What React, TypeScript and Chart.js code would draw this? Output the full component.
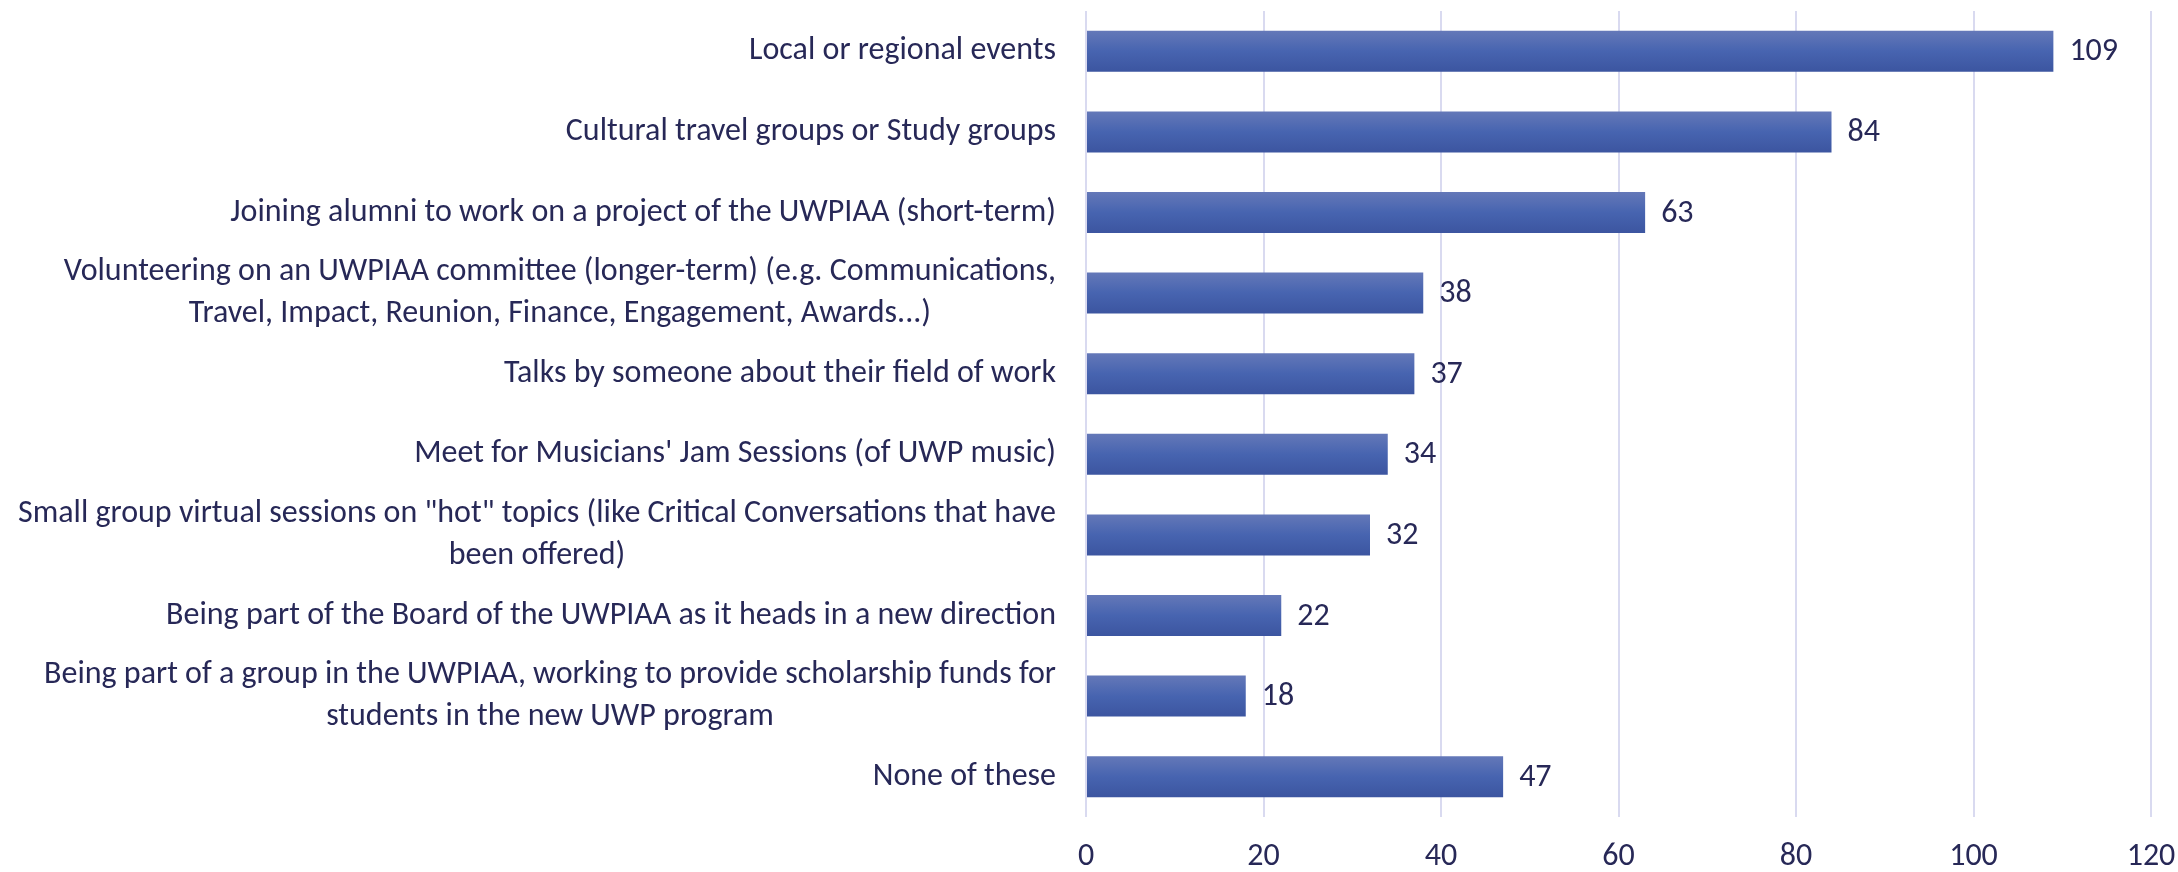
import React, { useEffect, useRef } from "react";
import { Chart, registerables } from "chart.js";

Chart.register(...registerables);

const categories: string[][] = [
  ["Local or regional events"],
  ["Cultural travel groups or Study groups"],
  ["Joining alumni to work on a project of the UWPIAA (short-term)"],
  [
    "Volunteering on an UWPIAA committee (longer-term) (e.g. Communications,",
    "Travel, Impact, Reunion, Finance, Engagement, Awards...)",
  ],
  ["Talks by someone about their field of work"],
  ["Meet for Musicians' Jam Sessions (of UWP music)"],
  [
    'Small group virtual sessions on "hot" topics (like Critical Conversations that have',
    "been offered)",
  ],
  ["Being part of the Board of the UWPIAA as it heads in a new direction"],
  [
    "Being part of a group in the UWPIAA, working to provide scholarship funds for",
    "students in the new UWP program",
  ],
  ["None of these"],
];

const responses: number[] = [109, 84, 63, 38, 37, 34, 32, 22, 18, 47];

const xTicks: number[] = [0, 20, 40, 60, 80, 100, 120];

const TEXT = "#272857";
const GRID = "#D9DAF0";

function hasFont(name: string): boolean {
  const c = document.createElement("canvas").getContext("2d")!;
  const s = "abcdefghijklmnopqrstuvwxyz ABCDEFGHIJ 0123456789";
  c.font = "40px monospace";
  const a = c.measureText(s).width;
  c.font = `40px "${name}", monospace`;
  const b = c.measureText(s).width;
  c.font = "40px serif";
  const a2 = c.measureText(s).width;
  c.font = `40px "${name}", serif`;
  const b2 = c.measureText(s).width;
  return a !== b || a2 !== b2;
}

export default function App() {
  const ref = useRef<HTMLCanvasElement>(null);

  useEffect(() => {
    const canvas = ref.current!;
    const cands = ["Carlito", "Lato", "Open Sans", "Noto Sans", "DejaVu Sans"];
    let family = "sans-serif";
    for (const f of cands) {
      if (hasFont(f)) {
        family = `"${f}", sans-serif`;
        break;
      }
    }
    // fit the font size so the widest label spans like the reference
    const mctx = document.createElement("canvas").getContext("2d")!;
    mctx.font = `31px ${family}`;
    const w = mctx.measureText(categories[6][0]).width;
    let fontSize = Math.min(32, (31 * 1042) / w);
    fontSize = Math.max(24, fontSize);
    const font = { family, size: fontSize };
    const lineH = 42;
    const BAR_H = 41;

    const labelPlugin = {
      id: "labels",
      afterDatasetsDraw(chart: any) {
        const { ctx, scales, chartArea } = chart;
        const y = scales.y;
        const x = scales.x;
        ctx.save();
        ctx.fillStyle = TEXT;
        ctx.font = `${fontSize}px ${family}`;
        ctx.textBaseline = "middle";
        const right = chartArea.left - 30;
        categories.forEach((lines, i) => {
          const yc = y.getPixelForValue(i);
          let bw = 0;
          lines.forEach((l) => (bw = Math.max(bw, ctx.measureText(l).width)));
          ctx.textAlign = "center";
          lines.forEach((l, j) => {
            ctx.fillText(l, right - bw / 2, yc + (j - (lines.length - 1) / 2) * lineH);
          });
          ctx.textAlign = "left";
          ctx.fillText(String(responses[i]), x.getPixelForValue(responses[i]) + 16, yc + 1);
        });
        ctx.restore();
      },
    };

    const chart = new Chart(canvas, {
      type: "bar",
      data: {
        labels: categories.map((c) => c.join(" ")),
        datasets: [
          {
            data: responses,
            barPercentage: BAR_H / 80.6,
            categoryPercentage: 1,
            borderWidth: 0,
            backgroundColor: (ctx: any) => {
              const chart = ctx.chart;
              const y = chart.scales && chart.scales.y;
              if (!y || !chart.chartArea) return "#4664B0";
              const yc = y.getPixelForValue(ctx.dataIndex);
              const g = chart.ctx.createLinearGradient(0, yc - BAR_H / 2, 0, yc + BAR_H / 2);
              g.addColorStop(0, "#6478B8");
              g.addColorStop(0.5, "#4764B0");
              g.addColorStop(1, "#3C55A0");
              return g;
            },
          },
        ],
      },
      options: {
        indexAxis: "y",
        responsive: false,
        animation: false,
        layout: { padding: { top: 11, right: 27, bottom: 0, left: 0 } },
        plugins: {
          legend: { display: false },
          tooltip: { enabled: false },
        },
        scales: {
          x: {
            type: "linear",
            position: "bottom",
            min: 0,
            max: 120,
            afterBuildTicks: (s: any) => {
              s.ticks = xTicks.map((v) => ({ value: v }));
            },
            afterFit: (s: any) => {
              s.height = 55;
              s.paddingLeft = 0;
              s.paddingRight = 0;
            },
            grid: { color: GRID, lineWidth: 2, drawTicks: false },
            border: { display: false },
            ticks: { color: TEXT, font, padding: 21 },
          },
          y: {
            type: "category",
            afterFit: (s: any) => {
              s.width = 1086;
              s.paddingTop = 0;
              s.paddingBottom = 0;
            },
            grid: { display: false },
            border: { display: false },
            ticks: { display: false },
          },
        },
      },
      plugins: [labelPlugin],
    } as any);
    return () => chart.destroy();
  }, []);

  return (
    <div style={{ position: "absolute", left: 0, top: 0, width: 2178, height: 872, background: "#fff" }}>
      <canvas ref={ref} width={2178} height={872} style={{ display: "block" }} />
    </div>
  );
}
